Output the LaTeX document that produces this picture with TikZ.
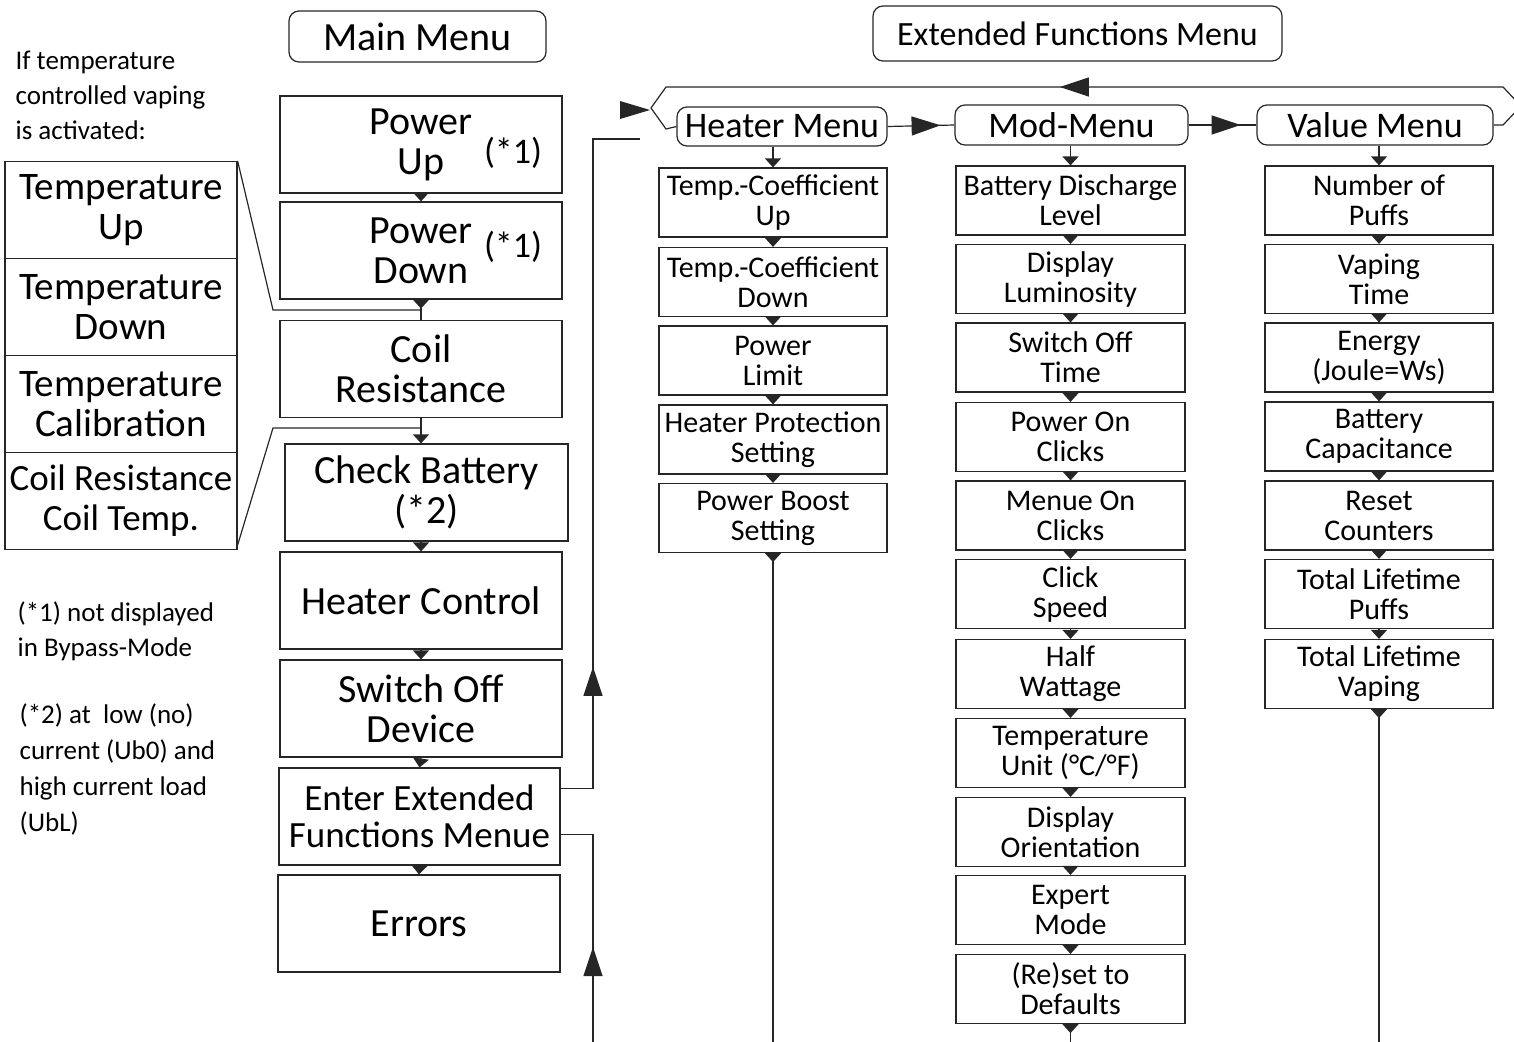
\documentclass[tikz,border=0pt]{standalone}
\usepackage{fontspec}
\setmainfont{Carlito}
\usetikzlibrary{arrows.meta,decorations.markings}

\colorlet{linea}{black!85}
\tikzset{
  caja/.style={draw=linea, line width=1.2pt, inner sep=0pt, align=center},
  menu/.style={caja, minimum width=282pt, minimum height=97pt, font=\fontsize{40}{40}\selectfont},
  temp/.style={caja, minimum width=232pt, minimum height=97pt, font=\fontsize{39}{40}\selectfont},
  sub/.style={caja, minimum width=228pt, minimum height=69pt, font=\fontsize{30}{30}\selectfont},
  titulo/.style={caja, rounded corners=10pt},
  nota/.style={inner sep=0pt, anchor=north west, align=left, font=\fontsize{27}{35}\selectfont},
  flecha/.style={-{Triangle[length=9pt,width=16pt]}},
  punta/.style={postaction=decorate, decoration={markings,
      mark=at position #1 with {\arrow{Triangle[length=9pt,width=16pt]}}}},
  puntagrande/.style={postaction=decorate, decoration={markings,
      mark=at position #1 with {\arrow{Triangle[length=29pt,width=19pt]}}}}
}

\begin{document}
\begin{tikzpicture}[x=1pt, y=-1pt, line width=1.2pt, draw=linea]
    \useasboundingbox (0,0) rectangle (1514,1041);

    % Titulos
    \node[titulo, minimum width=257pt, minimum height=51pt, font=\fontsize{40}{40}\selectfont] (main) at (417.5,36.5) {Main Menu};
    \node[titulo, minimum width=409pt, minimum height=55pt, font=\fontsize{34}{34}\selectfont] (ext) at (1077.5,33.5) {Extended Functions Menu};

    % Notas a la izquierda
    \node[nota] (nota1) at (15,50) {If temperature\\controlled vaping\\is activated:};
    \node[nota] (nota2) at (17,601) {(*1) not displayed\\in Bypass-Mode};
    \node[nota, font=\fontsize{27}{36}\selectfont] (nota3) at (19,703) {(*2) at\ \ low (no)\\current (Ub0) and\\high current load\\(UbL)};

    % Menu principal
    \node[menu] (pu) at (421,144.5) {Power\\Up};
    \node[menu] (pd) at (421,250.5) {Power\\Down};
    \node[menu] (cr) at (421,369) {Coil\\Resistance};
    \node[menu, minimum width=283pt] (cb) at (426.5,492.5) {Check Battery\\(*2)};
    \node[menu] (hc) at (421,600.5) {Heater Control};
    \node[menu] (sw) at (421,708.5) {Switch Off\\Device};
    \node[menu, minimum width=281pt, font=\fontsize{37}{37}\selectfont] (ent) at (419.5,816.5) {Enter Extended\\Functions Menue};
    \node[menu] (err) at (419,923.5) {Errors};
    \node[font=\fontsize{36}{36}\selectfont, inner sep=0pt] (n1a) at (513,153) {(*1)};
    \node[font=\fontsize{36}{36}\selectfont, inner sep=0pt] (n1b) at (513,247) {(*1)};

    \draw[flecha] (pu.south) -- (pd.north);
    \draw[punta=9pt] (pd.south) -- (cr.north);
    \draw[flecha] (cr.south) -- (cr.south |- cb.north);
    \draw[flecha] (hc.north |- cb.south) -- (hc.north);
    \foreach \a/\b in {hc/sw,sw/ent,ent/err}
        \draw[flecha] (\a.south) -- (\b.north);

    % Submenu de temperatura
    \node[temp] (tup) at (121,210) {Temperature\\Up};
    \node[temp] (tdn) at (121,307) {Temperature\\Down};
    \node[temp] (tcal) at (121,404) {Temperature\\Calibration};
    \node[temp, font=\fontsize{37}{40}\selectfont] (crt) at (121,501) {Coil Resistance\\Coil Temp.};
    \coordinate (j1) at (273,310);
    \coordinate (j2) at (273,428);
    \draw (tup.north east) -- (j1) -| (pd.south);
    \draw (cr.south) |- (j2) -- ([yshift=5pt]crt.south east);

    % Menus extendidos
    \node[titulo, minimum width=210pt, minimum height=39pt, font=\fontsize{36}{36}\selectfont] (hm) at (782,126.5) {Heater Menu};
    \node[titulo, minimum width=233pt, minimum height=40pt, font=\fontsize{36}{36}\selectfont] (mm) at (1071.5,125) {Mod-Menu};
    \node[titulo, minimum width=236pt, minimum height=40pt, font=\fontsize{36}{36}\selectfont] (vm) at (1375,125) {Value Menu};
    \draw[puntagrande=53pt] (hm.east) -- (mm.west);
    \draw[puntagrande=52pt] (mm.east) -- (vm.west);

    % Lazo de vuelta
    \coordinate (l1) at (1503,125);
    \coordinate (l2) at (1521,106);
    \coordinate (l3) at (1503,87);
    \coordinate (l4) at (666,87);
    \coordinate (l5) at (651,108);
    \coordinate (l6) at (666,129);
    \draw[puntagrande=505pt] (vm.east) -- (l1) -- (l2) -- (l3) -- (l4) -- (l5) -- (l6) -- (hm.west);
    \fill[linea] (620,101) -- (650,110) -- (620,119) -- cycle;

    % Entrada y retorno
    \coordinate (esq) at (593,139);
    \coordinate (entrada) at (640,139);
    \coordinate (fondo) at (0,1045);
    \draw[puntagrande=154pt] ([yshift=28pt]ent.east) -| (esq) -- (entrada);
    \draw[puntagrande=98pt] (593,1045) |- ([yshift=-18pt]ent.east);

    % Columna heater
    \foreach \n/\t/\y in {h1/{Temp.-Coefficient\\Up}/202.5, h2/{Temp.-Coefficient\\Down}/282,
        h3/{Power\\Limit}/360.5, h4/{Heater Protection\\Setting}/439.5, h5/{Power Boost\\Setting}/518}
        \node[sub] (\n) at (773,\y) {\t};
    % Columna mod
    \foreach \n/\t/\y in {m1/{Battery Discharge\\Level}/200.5, m2/{Display\\Luminosity}/279,
        m3/{Switch Off\\Time}/357.5, m4/{Power On\\Clicks}/437, m5/{Menue On\\Clicks}/515.5,
        m6/{Click\\Speed}/594, m7/{Half\\Wattage}/674, m8/{Temperature\\Unit (°C/°F)}/753,
        m9/{Display\\Orientation}/832, m10/{Expert\\Mode}/910, m11/{(Re)set to\\Defaults}/989}
        \node[sub, minimum width=229pt] (\n) at (1070.5,\y) {\t};
    % Columna value
    \foreach \n/\t/\y in {v1/{Number of\\Puffs}/200.5, v2/{Vaping\\Time}/279,
        v3/{Energy\\(Joule=Ws)}/357.5, v4/{Battery\\Capacitance}/436.5, v5/{Reset\\Counters}/515.5,
        v6/{Total Lifetime\\Puffs}/594, v7/{Total Lifetime\\Vaping}/674}
        \node[sub] (\n) at (1379,\y) {\t};

    % Flechas de las columnas
    \draw[flecha] (h1.north |- hm.south) -- (h1.north);
    \draw[flecha] (m1.north |- mm.south) -- (m1.north);
    \draw[flecha] (v1.north |- vm.south) -- (v1.north);
    \foreach \a/\b in {h1/h2,h2/h3,h3/h4,h4/h5,m1/m2,m2/m3,m3/m4,m4/m5,m5/m6,m6/m7,
        m7/m8,m8/m9,m9/m10,m10/m11,v1/v2,v2/v3,v3/v4,v4/v5,v5/v6,v6/v7}
        \draw[flecha] (\a.south) -- (\b.north);
    \draw[punta=9pt] (h5.south) -- (h5.south |- fondo);
    \draw[punta=9pt] (m11.south) -- (m11.south |- fondo);
    \draw[punta=9pt] (v7.south) -- (v7.south |- fondo);
\end{tikzpicture}
\end{document}
